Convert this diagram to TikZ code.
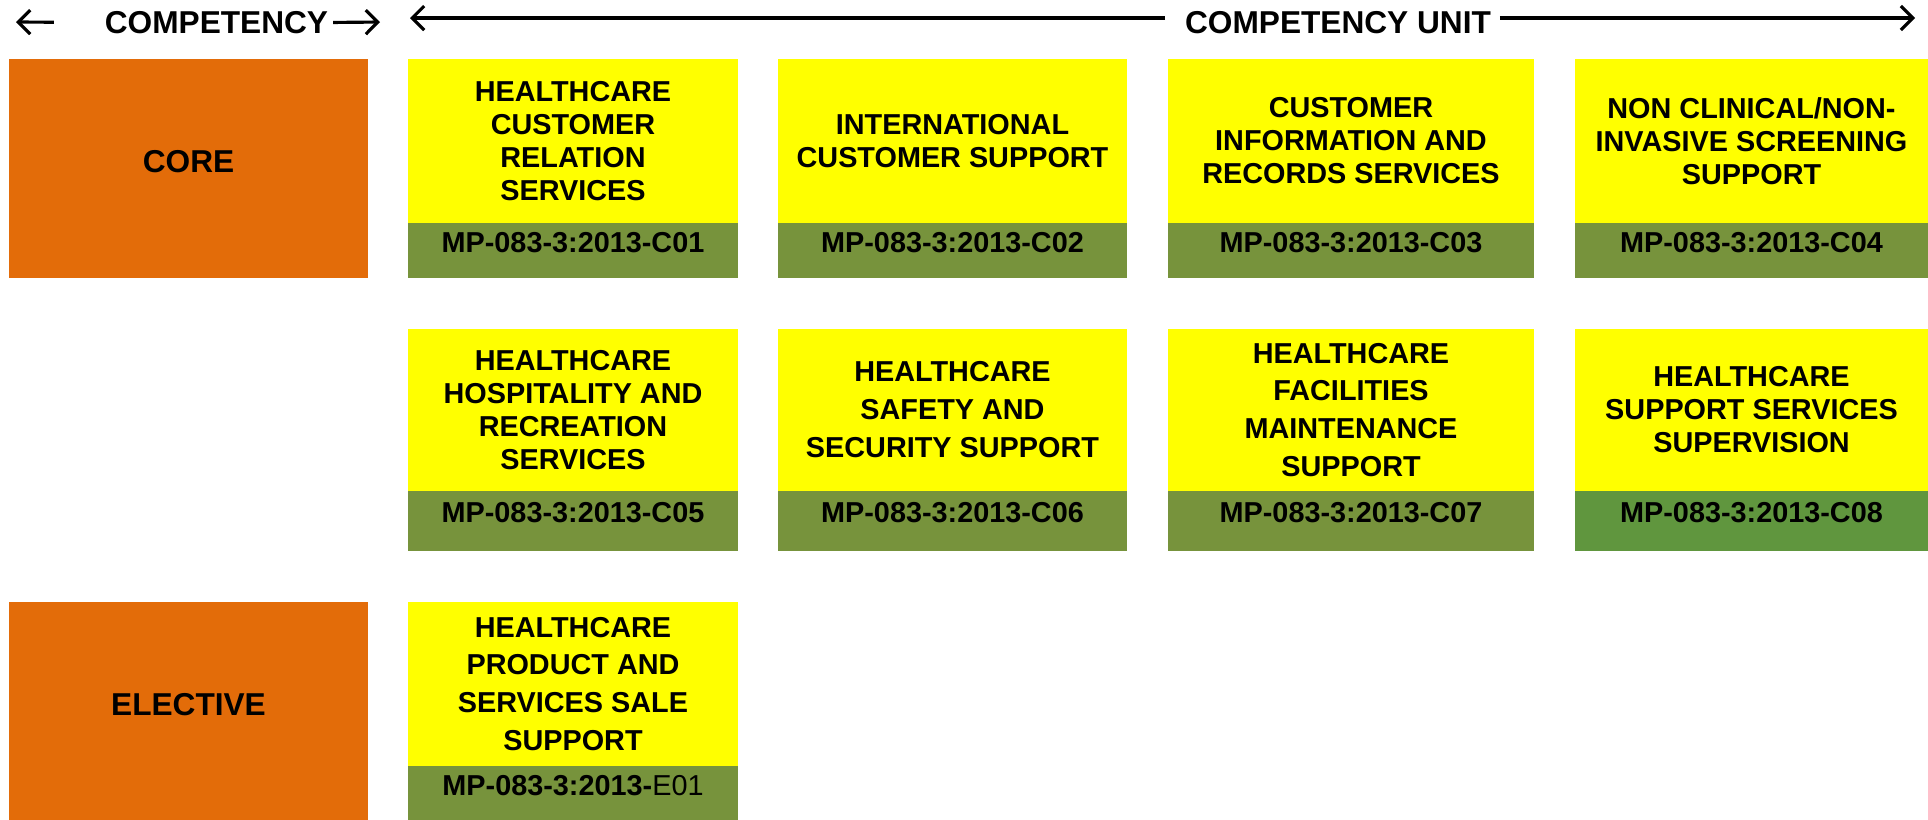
\documentclass[tikz,border=0pt]{standalone}
\usepackage{fontspec}
\setmainfont{Liberation Sans}
\usepackage{tikz}
\usetikzlibrary{arrows.meta,positioning}

\definecolor{coreorange}{HTML}{E36C09}
\definecolor{unityellow}{HTML}{FFFF00}
\definecolor{codegreen}{HTML}{77933C}
\definecolor{codegreenb}{HTML}{60963E}

\begin{document}
\begin{tikzpicture}[
  >={Straight Barb[length=0.12cm,width=0.24cm]},
  outer sep=0pt,
  kindbox/.style={fill=coreorange, minimum width=3.59cm, minimum height=2.19cm, text depth=0.14cm,
                  inner sep=0pt, font=\bfseries\fontsize{9}{11}\selectfont},
  unitbox/.style={fill=unityellow, align=center, minimum height=1.64cm,
                  inner sep=0pt, font=\bfseries\fontsize{8.2}{9.4}\selectfont},
  loose/.style={font=\bfseries\fontsize{8.2}{10.8}\selectfont},
  codebox/.style={fill=codegreen, minimum height=0.55cm, inner sep=0pt, text depth=0.17cm,
                  font=\bfseries\fontsize{8.2}{9.4}\selectfont},
  headlabel/.style={inner sep=0pt, font=\bfseries\fontsize{9}{11}\selectfont}
]
\useasboundingbox (0,0) rectangle (19.28,-8.19);

\node[headlabel] (comp)  at (2.165,-0.225) {COMPETENCY};
\node[headlabel] (units) at (13.38,-0.225) {COMPETENCY UNIT};
\coordinate (compleft)  at (0.16,-0.22);
\coordinate (compright) at (3.80,-0.22);
\coordinate (unitleft)  at (4.10,-0.18);
\coordinate (unitright) at (19.15,-0.18);

\node[kindbox, anchor=north west] (core) at (0.09,-0.59) {CORE};

\node[unitbox, minimum width=3.30cm, below right=0cm and 0.40cm of core.north east] (c01) {HEALTHCARE\\CUSTOMER\\RELATION\\SERVICES};
\node[codebox, minimum width=3.30cm, below=0cm of c01] (c01code) {MP-083-3:2013-C01};
\node[unitbox, minimum width=3.49cm, below right=0cm and 0.40cm of c01.north east] (c02) {INTERNATIONAL\\CUSTOMER SUPPORT};
\node[codebox, minimum width=3.49cm, below=0cm of c02] (c02code) {MP-083-3:2013-C02};
\node[unitbox, minimum width=3.66cm, below right=0cm and 0.41cm of c02.north east] (c03) {CUSTOMER\\INFORMATION AND\\RECORDS SERVICES};
\node[codebox, minimum width=3.66cm, below=0cm of c03] (c03code) {MP-083-3:2013-C03};
\node[unitbox, minimum width=3.53cm, below right=0cm and 0.41cm of c03.north east] (c04) {NON CLINICAL/NON-\\INVASIVE SCREENING\\SUPPORT};
\node[codebox, minimum width=3.53cm, below=0cm of c04] (c04code) {MP-083-3:2013-C04};

\node[unitbox, minimum width=3.30cm, minimum height=1.62cm, below=0.51cm of c01code] (c05) {HEALTHCARE\\HOSPITALITY AND\\RECREATION\\SERVICES};
\node[codebox, minimum width=3.30cm, minimum height=0.60cm, below=0cm of c05] (c05code) {MP-083-3:2013-C05};
\node[unitbox, loose, minimum width=3.49cm, minimum height=1.62cm, below right=0cm and 0.40cm of c05.north east] (c06) {HEALTHCARE\\SAFETY AND\\SECURITY SUPPORT};
\node[codebox, minimum width=3.49cm, minimum height=0.60cm, below=0cm of c06] (c06code) {MP-083-3:2013-C06};
\node[unitbox, loose, minimum width=3.66cm, minimum height=1.62cm, below right=0cm and 0.41cm of c06.north east] (c07) {HEALTHCARE\\FACILITIES\\MAINTENANCE\\SUPPORT};
\node[codebox, minimum width=3.66cm, minimum height=0.60cm, below=0cm of c07] (c07code) {MP-083-3:2013-C07};
\node[unitbox, minimum width=3.53cm, minimum height=1.62cm, below right=0cm and 0.41cm of c07.north east] (c08) {HEALTHCARE\\SUPPORT SERVICES\\SUPERVISION};
\node[codebox, fill=codegreenb, minimum width=3.53cm, minimum height=0.60cm, below=0cm of c08] (c08code) {MP-083-3:2013-C08};

\node[unitbox, loose, minimum width=3.30cm, below=0.51cm of c05code] (e01) {HEALTHCARE\\PRODUCT AND\\SERVICES SALE\\SUPPORT};
\node[codebox, minimum width=3.30cm, below=0cm of e01] (e01code) {MP-083-3:2013-\textmd{E01}};
\node[kindbox, below left=0cm and 0.40cm of e01.north west] (elective) {ELECTIVE};

\draw[->, line width=0.9pt, shorten <=0.51cm] (comp.west) -- (compleft);
\draw[->, line width=0.9pt, shorten <=0.05cm] (comp.east) -- (compright);
\draw[->, line width=0.9pt, shorten <=0.2cm] (units.west |- unitleft) -- (unitleft);
\draw[->, line width=0.9pt, shorten <=0.09cm] (units.east |- unitright) -- (unitright);
\end{tikzpicture}
\end{document}
